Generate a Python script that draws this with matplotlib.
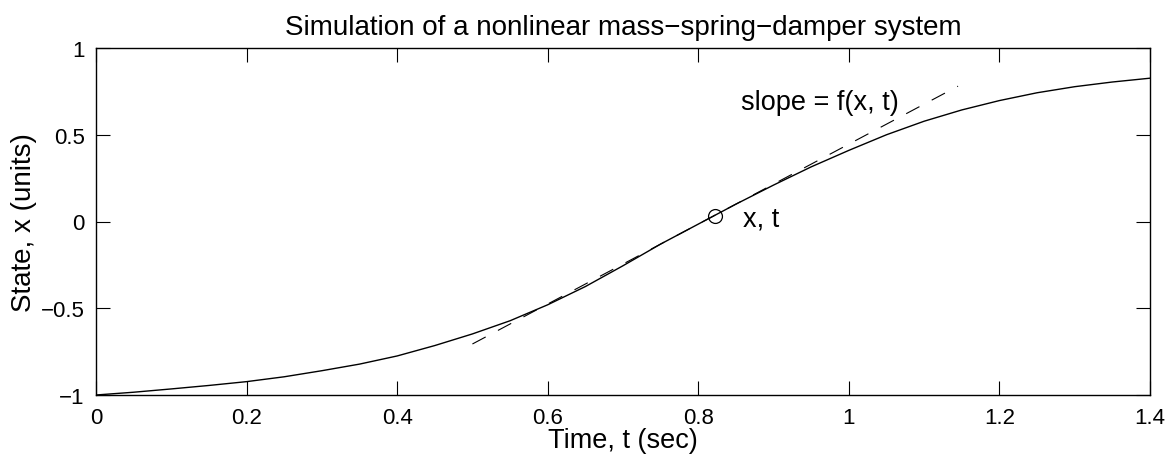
import matplotlib
matplotlib.use("Agg")
import matplotlib.pyplot as plt

plt.rcParams['font.family'] = ['Liberation Sans', 'DejaVu Sans']

# Data
t_vals = [0.0, 0.05, 0.1, 0.15, 0.2, 0.25, 0.3, 0.35, 0.4, 0.45, 0.5, 0.55, 0.6,
          0.65, 0.7, 0.75, 0.8, 0.85, 0.9, 0.95, 1.0, 1.05, 1.1, 1.15, 1.2,
          1.25, 1.3, 1.35, 1.4]
x_vals = [-1.0, -0.984, -0.965, -0.945, -0.923, -0.895, -0.86, -0.822, -0.775,
          -0.715, -0.648, -0.572, -0.48, -0.375, -0.255, -0.13, -0.015, 0.10,
          0.21, 0.315, 0.41, 0.50, 0.578, 0.643, 0.697, 0.742, 0.777, 0.804, 0.826]
tangent_t = [0.5, 1.145]
tangent_x = [-0.706, 0.78]
point_t = [0.822]
point_x = [0.033]

title = "Simulation of a nonlinear mass\u2212spring\u2212damper system"
xlabel = "Time, t (sec)"
ylabel = "State, x (units)"
xticks = [0, 0.2, 0.4, 0.6, 0.8, 1.0, 1.2, 1.4]
xticklabels = ["0", "0.2", "0.4", "0.6", "0.8", "1", "1.2", "1.4"]
yticks = [-1, -0.5, 0, 0.5, 1]
yticklabels = ["\u22121", "\u22120.5", "0", "0.5", "1"]

fig = plt.figure(figsize=(11.72, 4.60), dpi=100)
ax = fig.add_axes([96/1172, 1-396/460, (1150-96)/1172, (396-49)/460])

ax.plot(t_vals, x_vals, color='black', lw=1.0)
ax.plot(tangent_t, tangent_x, color='black', lw=0.8, linestyle=(0, (13.5, 12.5)))
ax.plot(point_t, point_x, 'o', mfc='none', mec='black', ms=10, mew=0.9)

ax.text(0.857, 0.69, "slope = f(x, t)", fontsize=19.5, va='center', ha='left')
ax.text(0.859, 0.015, "x, t", fontsize=19.5, va='center', ha='left')

ax.set_xlim(0, 1.4)
ax.set_ylim(-1, 1)
ax.set_xticks(xticks)
ax.set_xticklabels(xticklabels)
ax.set_yticks(yticks)
ax.set_yticklabels(yticklabels)
ax.tick_params(direction='in', length=10, width=0.8, top=True, right=True,
               labelsize=16)
ax.tick_params(axis='x', pad=9)
ax.tick_params(axis='y', pad=8)
for s in ax.spines.values():
    s.set_linewidth(1.0)

ax.set_title(title, fontsize=20, pad=10)
ax.set_xlabel(xlabel, fontsize=19.5, labelpad=-1)
ax.set_ylabel(ylabel, fontsize=20, labelpad=3)

fig.savefig("out.png", dpi=100)
